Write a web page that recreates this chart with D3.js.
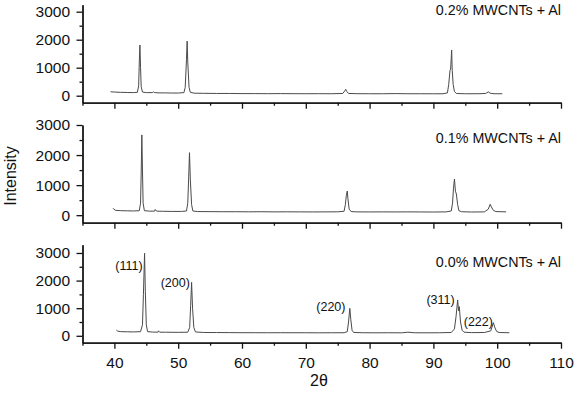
<!DOCTYPE html>
<html><head><meta charset="utf-8">
<script src="https://cdn.jsdelivr.net/npm/d3@7"></script>
<style>
html,body{margin:0;padding:0;background:#fff;}
svg{display:block;}
text{font-family:"Liberation Sans",Arial,Helvetica,sans-serif;fill:#111;}
</style></head>
<body>
<svg id="chart" width="574" height="398"></svg>
<script>
// ---- data (2θ, intensity) ----
const samples = ["0.2% MWCNTs + Al", "0.1% MWCNTs + Al", "0.0% MWCNTs + Al"];

const series02 = [[39.4,140],[40,130],[41,120],[42,115],[43,110],[43.6,120],[43.8,350],[43.9,1200],[44.0,1810],[44.1,1000],[44.2,320],[44.4,130],[45,110],[46.0,110],[46.1,140],[46.3,110],[47,100],[48,100],[49,95],[50,95],[50.9,110],[51.1,300],[51.3,1300],[51.4,1950],[51.5,1200],[51.7,300],[51.9,120],[52.5,90],[54,85],[56,80],[58,80],[60,75],[62,75],[64,72],[66,75],[68,72],[70,70],[72,72],[74,70],[75.8,80],[76.1,170],[76.25,230],[76.4,160],[76.7,80],[78,72],[80,70],[82,70],[84,75],[86,70],[88,70],[90,68],[91.5,70],[92.2,100],[92.4,400],[92.6,900],[92.7,950],[92.86,1630],[92.95,900],[93.1,400],[93.3,150],[93.6,80],[95,70],[97,70],[98.2,80],[98.6,135],[98.9,90],[99.5,70],[100.8,70]];

const series01 = [[39.8,230],[39.9,200],[40.2,160],[41,150],[42,145],[43,140],[43.9,150],[44.1,400],[44.2,1400],[44.3,2670],[44.4,1500],[44.5,400],[44.7,150],[45.5,135],[46.3,135],[46.4,190],[46.6,135],[47.5,130],[49,125],[50.5,125],[51.3,140],[51.5,400],[51.65,1300],[51.77,2080],[51.9,1200],[52.1,350],[52.3,140],[53,120],[55,118],[57,115],[59,115],[61,112],[63,115],[65,110],[67,112],[69,110],[71,108],[73,110],[75,112],[76.0,130],[76.2,350],[76.35,650],[76.5,805],[76.6,550],[76.8,200],[77.1,120],[78,110],[80,108],[82,110],[84,108],[86,110],[88,108],[90,105],[92,110],[92.8,140],[93.0,400],[93.15,900],[93.3,1204],[93.45,800],[93.6,705],[93.8,350],[94.0,150],[94.4,115],[96,105],[98,110],[98.6,200],[98.9,363],[99.1,270],[99.4,160],[99.8,120],[101.4,110]];

const series00 = [[40.3,210],[40.5,170],[41,150],[42,145],[43,140],[44.1,150],[44.4,400],[44.55,1500],[44.73,2990],[44.85,1600],[45.0,400],[45.2,150],[46,135],[46.8,130],[46.9,180],[47.1,130],[48,130],[50,125],[51.5,130],[51.8,300],[51.95,1100],[52.1,1937],[52.25,1000],[52.45,300],[52.7,140],[54,120],[56,118],[58,115],[60,112],[62,112],[64,110],[66,112],[68,110],[70,110],[72,108],[74,110],[76,110],[76.5,150],[76.7,500],[76.9,995],[77.05,600],[77.25,200],[77.5,120],[79,110],[81,108],[83,110],[85,108],[86,130],[87,110],[89,108],[91,110],[92.8,120],[93.3,250],[93.55,700],[93.8,1297],[93.95,900],[94.06,1055],[94.25,500],[94.5,200],[94.8,130],[96,115],[98,120],[99,180],[99.4,475],[99.6,320],[99.9,160],[100.3,120],[101.9,110]];

const seriesList = [series02, series01, series00];

// peak annotations (text end point in data units: 2θ, intensity)
const peakLabels = ["(111)", "(200)", "(220)", "(311)", "(222)"];
const peakLabelAt = [[44.43, 2383], [51.83, 1768], [76.22, 898], [93.33, 1134], [99.33, 373]];

const xMajor = [40, 50, 60, 70, 80, 90, 100, 110];
const xMinor = [35, 45, 55, 65, 75, 85, 95, 105];
const yMajor = [0, 1000, 2000, 3000];
const yMinor = [500, 1500, 2500];
const yDomains = [[-250, 3250], [-250, 3000], [-250, 3300]];

// ---- layout ----
const svg = d3.select("#chart");
const panels = [
  {top: 4.7, bottom: 102.7, labelY: 15},
  {top: 125, bottom: 222.7, labelY: 143},
  {top: 244.7, bottom: 342.7, labelY: 267}
];
const x = d3.scaleLinear().domain([35, 110]).range([82.5, 561]);

panels.forEach((p, i) => {
  const y = d3.scaleLinear().domain(yDomains[i]).range([p.bottom, p.top]);
  const g = svg.append("g");

  // line
  g.append("path")
    .datum(seriesList[i])
    .attr("fill", "none")
    .attr("stroke", "#4a4a4a")
    .attr("stroke-width", 1)
    .attr("stroke-linejoin", "round")
    .attr("d", d3.line().x(d => x(d[0])).y(d => y(d[1])));

  // y axis
  g.append("g").attr("transform", `translate(${x.range()[0]},0)`)
    .call(d3.axisLeft(y).tickValues(yMajor).tickSize(6).tickSizeOuter(0).tickPadding(6.5).tickFormat(d3.format("d")));
  g.append("g").attr("transform", `translate(${x.range()[0]},0)`)
    .call(d3.axisLeft(y).tickValues(yMinor).tickSize(3).tickSizeOuter(0).tickFormat(""));

  // x axis
  g.append("g").attr("transform", `translate(0,${p.bottom})`)
    .call(d3.axisBottom(x).tickValues(xMajor).tickSize(6).tickSizeOuter(0).tickPadding(8.3)
      .tickFormat(i === 2 ? d3.format("d") : ""));
  g.append("g").attr("transform", `translate(0,${p.bottom})`)
    .call(d3.axisBottom(x).tickValues(xMinor).tickSize(3).tickSizeOuter(0).tickFormat(""));

  g.selectAll(".domain, .tick line").attr("stroke", "#111").attr("stroke-width", 1.3);
  g.selectAll(".tick text").attr("font-size", 15.5).attr("fill", "#111")
    .attr("font-family", '"Liberation Sans",Arial,sans-serif');

  // sample label
  g.append("text").attr("x", 561).attr("y", p.labelY)
    .attr("text-anchor", "end").attr("font-size", 14.3).text(samples[i]);

  if (i === 2) {
    g.selectAll(".peak").data(peakLabels).join("text")
      .attr("class", "peak")
      .attr("x", (t, k) => x(peakLabelAt[k][0]))
      .attr("y", (t, k) => y(peakLabelAt[k][1]))
      .attr("text-anchor", "end")
      .attr("font-size", 12.5)
      .text(t => t);
  }
});

// axis titles
svg.append("text").attr("x", 319).attr("y", 386).attr("text-anchor", "middle")
  .attr("font-size", 16).text("2θ");
svg.append("text").attr("transform", "translate(16,176) rotate(-90)")
  .attr("text-anchor", "middle").attr("font-size", 16).text("Intensity");
</script>
</body></html>
